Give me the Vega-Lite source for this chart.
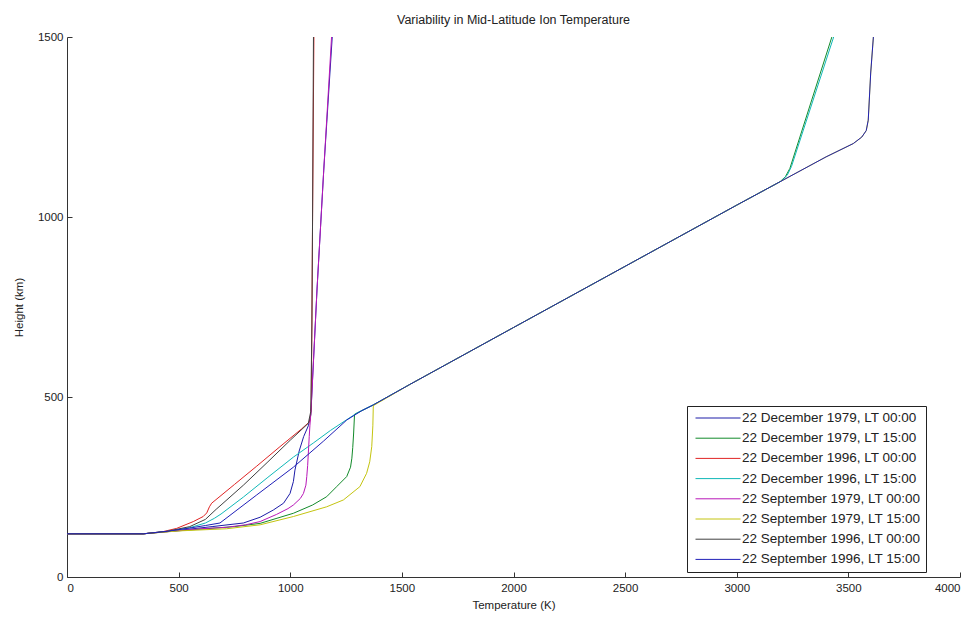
{
  "$schema": "https://vega.github.io/schema/vega-lite/v6.json",
  "autosize": "none",
  "width": 893,
  "height": 540,
  "padding": {"left": 67, "top": 37, "right": 17, "bottom": 42},
  "background": "white",
  "title": {"text": "Variability in Mid-Latitude Ion Temperature", "font": "Liberation Sans", "fontSize": 12.5, "fontWeight": "normal", "color": "#222222", "offset": 5, "anchor": "middle"},
  "config": {"view": {"stroke": null}},
  "data": {"values": [
    {"s": "22 December 1979, LT 00:00", "o": 1, "T": 0, "H": 120},
    {"s": "22 December 1979, LT 00:00", "o": 2, "T": 342, "H": 120},
    {"s": "22 December 1979, LT 00:00", "o": 3, "T": 450, "H": 126},
    {"s": "22 December 1979, LT 00:00", "o": 4, "T": 550, "H": 133},
    {"s": "22 December 1979, LT 00:00", "o": 5, "T": 650, "H": 140},
    {"s": "22 December 1979, LT 00:00", "o": 6, "T": 790, "H": 150},
    {"s": "22 December 1979, LT 00:00", "o": 7, "T": 865, "H": 166},
    {"s": "22 December 1979, LT 00:00", "o": 8, "T": 924, "H": 186},
    {"s": "22 December 1979, LT 00:00", "o": 9, "T": 970, "H": 205},
    {"s": "22 December 1979, LT 00:00", "o": 10, "T": 999, "H": 232},
    {"s": "22 December 1979, LT 00:00", "o": 11, "T": 1014, "H": 265},
    {"s": "22 December 1979, LT 00:00", "o": 12, "T": 1021, "H": 297},
    {"s": "22 December 1979, LT 00:00", "o": 13, "T": 1040, "H": 350},
    {"s": "22 December 1979, LT 00:00", "o": 14, "T": 1060, "H": 390},
    {"s": "22 December 1979, LT 00:00", "o": 15, "T": 1081, "H": 420},
    {"s": "22 December 1979, LT 00:00", "o": 16, "T": 1092, "H": 450},
    {"s": "22 December 1979, LT 00:00", "o": 17, "T": 1120, "H": 800},
    {"s": "22 December 1979, LT 00:00", "o": 18, "T": 1150, "H": 1130},
    {"s": "22 December 1979, LT 00:00", "o": 19, "T": 1188, "H": 1500},

    {"s": "22 December 1979, LT 15:00", "o": 1, "T": 0, "H": 120},
    {"s": "22 December 1979, LT 15:00", "o": 2, "T": 342, "H": 120},
    {"s": "22 December 1979, LT 15:00", "o": 3, "T": 450, "H": 126},
    {"s": "22 December 1979, LT 15:00", "o": 4, "T": 600, "H": 133},
    {"s": "22 December 1979, LT 15:00", "o": 5, "T": 750, "H": 140},
    {"s": "22 December 1979, LT 15:00", "o": 6, "T": 865, "H": 149},
    {"s": "22 December 1979, LT 15:00", "o": 7, "T": 1014, "H": 177},
    {"s": "22 December 1979, LT 15:00", "o": 8, "T": 1100, "H": 200},
    {"s": "22 December 1979, LT 15:00", "o": 9, "T": 1163, "H": 223},
    {"s": "22 December 1979, LT 15:00", "o": 10, "T": 1208, "H": 251},
    {"s": "22 December 1979, LT 15:00", "o": 11, "T": 1253, "H": 279},
    {"s": "22 December 1979, LT 15:00", "o": 12, "T": 1270, "H": 305},
    {"s": "22 December 1979, LT 15:00", "o": 13, "T": 1276, "H": 330},
    {"s": "22 December 1979, LT 15:00", "o": 14, "T": 1280, "H": 360},
    {"s": "22 December 1979, LT 15:00", "o": 15, "T": 1284, "H": 400},
    {"s": "22 December 1979, LT 15:00", "o": 16, "T": 1288, "H": 452},
    {"s": "22 December 1979, LT 15:00", "o": 17, "T": 1372, "H": 478},
    {"s": "22 December 1979, LT 15:00", "o": 18, "T": 1536, "H": 535},
    {"s": "22 December 1979, LT 15:00", "o": 19, "T": 2000, "H": 693},
    {"s": "22 December 1979, LT 15:00", "o": 20, "T": 2500, "H": 863},
    {"s": "22 December 1979, LT 15:00", "o": 21, "T": 3000, "H": 1033},
    {"s": "22 December 1979, LT 15:00", "o": 22, "T": 3194, "H": 1098},
    {"s": "22 December 1979, LT 15:00", "o": 23, "T": 3218, "H": 1112},
    {"s": "22 December 1979, LT 15:00", "o": 24, "T": 3238, "H": 1135},
    {"s": "22 December 1979, LT 15:00", "o": 25, "T": 3426, "H": 1500},

    {"s": "22 December 1996, LT 00:00", "o": 1, "T": 0, "H": 120},
    {"s": "22 December 1996, LT 00:00", "o": 2, "T": 342, "H": 120},
    {"s": "22 December 1996, LT 00:00", "o": 3, "T": 430, "H": 126},
    {"s": "22 December 1996, LT 00:00", "o": 4, "T": 491, "H": 135},
    {"s": "22 December 1996, LT 00:00", "o": 5, "T": 566, "H": 154},
    {"s": "22 December 1996, LT 00:00", "o": 6, "T": 610, "H": 168},
    {"s": "22 December 1996, LT 00:00", "o": 7, "T": 626, "H": 178},
    {"s": "22 December 1996, LT 00:00", "o": 8, "T": 638, "H": 195},
    {"s": "22 December 1996, LT 00:00", "o": 9, "T": 648, "H": 205},
    {"s": "22 December 1996, LT 00:00", "o": 10, "T": 750, "H": 257},
    {"s": "22 December 1996, LT 00:00", "o": 11, "T": 850, "H": 308},
    {"s": "22 December 1996, LT 00:00", "o": 12, "T": 950, "H": 360},
    {"s": "22 December 1996, LT 00:00", "o": 13, "T": 1050, "H": 411},
    {"s": "22 December 1996, LT 00:00", "o": 14, "T": 1088, "H": 432},
    {"s": "22 December 1996, LT 00:00", "o": 15, "T": 1094, "H": 470},
    {"s": "22 December 1996, LT 00:00", "o": 16, "T": 1097, "H": 700},
    {"s": "22 December 1996, LT 00:00", "o": 17, "T": 1100, "H": 1000},
    {"s": "22 December 1996, LT 00:00", "o": 18, "T": 1106, "H": 1500},

    {"s": "22 December 1996, LT 15:00", "o": 1, "T": 0, "H": 120},
    {"s": "22 December 1996, LT 15:00", "o": 2, "T": 342, "H": 120},
    {"s": "22 December 1996, LT 15:00", "o": 3, "T": 450, "H": 127},
    {"s": "22 December 1996, LT 15:00", "o": 4, "T": 550, "H": 137},
    {"s": "22 December 1996, LT 15:00", "o": 5, "T": 620, "H": 150},
    {"s": "22 December 1996, LT 15:00", "o": 6, "T": 660, "H": 163},
    {"s": "22 December 1996, LT 15:00", "o": 7, "T": 690, "H": 175},
    {"s": "22 December 1996, LT 15:00", "o": 8, "T": 790, "H": 222},
    {"s": "22 December 1996, LT 15:00", "o": 9, "T": 900, "H": 277},
    {"s": "22 December 1996, LT 15:00", "o": 10, "T": 1014, "H": 333},
    {"s": "22 December 1996, LT 15:00", "o": 11, "T": 1103, "H": 372},
    {"s": "22 December 1996, LT 15:00", "o": 12, "T": 1180, "H": 407},
    {"s": "22 December 1996, LT 15:00", "o": 13, "T": 1253, "H": 437},
    {"s": "22 December 1996, LT 15:00", "o": 14, "T": 1300, "H": 456},
    {"s": "22 December 1996, LT 15:00", "o": 15, "T": 1372, "H": 478},
    {"s": "22 December 1996, LT 15:00", "o": 16, "T": 1536, "H": 535},
    {"s": "22 December 1996, LT 15:00", "o": 17, "T": 2000, "H": 693},
    {"s": "22 December 1996, LT 15:00", "o": 18, "T": 2500, "H": 863},
    {"s": "22 December 1996, LT 15:00", "o": 19, "T": 3000, "H": 1033},
    {"s": "22 December 1996, LT 15:00", "o": 20, "T": 3200, "H": 1100},
    {"s": "22 December 1996, LT 15:00", "o": 21, "T": 3226, "H": 1116},
    {"s": "22 December 1996, LT 15:00", "o": 22, "T": 3245, "H": 1140},
    {"s": "22 December 1996, LT 15:00", "o": 23, "T": 3434, "H": 1500},

    {"s": "22 September 1979, LT 00:00", "o": 1, "T": 0, "H": 120},
    {"s": "22 September 1979, LT 00:00", "o": 2, "T": 342, "H": 120},
    {"s": "22 September 1979, LT 00:00", "o": 3, "T": 450, "H": 126},
    {"s": "22 September 1979, LT 00:00", "o": 4, "T": 600, "H": 134},
    {"s": "22 September 1979, LT 00:00", "o": 5, "T": 715, "H": 138},
    {"s": "22 September 1979, LT 00:00", "o": 6, "T": 800, "H": 145},
    {"s": "22 September 1979, LT 00:00", "o": 7, "T": 865, "H": 154},
    {"s": "22 September 1979, LT 00:00", "o": 8, "T": 939, "H": 174},
    {"s": "22 September 1979, LT 00:00", "o": 9, "T": 990, "H": 190},
    {"s": "22 September 1979, LT 00:00", "o": 10, "T": 1014, "H": 200},
    {"s": "22 September 1979, LT 00:00", "o": 11, "T": 1045, "H": 218},
    {"s": "22 September 1979, LT 00:00", "o": 12, "T": 1059, "H": 232},
    {"s": "22 September 1979, LT 00:00", "o": 13, "T": 1070, "H": 255},
    {"s": "22 September 1979, LT 00:00", "o": 14, "T": 1074, "H": 279},
    {"s": "22 September 1979, LT 00:00", "o": 15, "T": 1078, "H": 310},
    {"s": "22 September 1979, LT 00:00", "o": 16, "T": 1081, "H": 344},
    {"s": "22 September 1979, LT 00:00", "o": 17, "T": 1085, "H": 390},
    {"s": "22 September 1979, LT 00:00", "o": 18, "T": 1088, "H": 420},
    {"s": "22 September 1979, LT 00:00", "o": 19, "T": 1093, "H": 460},
    {"s": "22 September 1979, LT 00:00", "o": 20, "T": 1120, "H": 800},
    {"s": "22 September 1979, LT 00:00", "o": 21, "T": 1150, "H": 1130},
    {"s": "22 September 1979, LT 00:00", "o": 22, "T": 1185, "H": 1500},

    {"s": "22 September 1979, LT 15:00", "o": 1, "T": 0, "H": 120},
    {"s": "22 September 1979, LT 15:00", "o": 2, "T": 342, "H": 120},
    {"s": "22 September 1979, LT 15:00", "o": 3, "T": 500, "H": 128},
    {"s": "22 September 1979, LT 15:00", "o": 4, "T": 715, "H": 134},
    {"s": "22 September 1979, LT 15:00", "o": 5, "T": 865, "H": 145},
    {"s": "22 September 1979, LT 15:00", "o": 6, "T": 1014, "H": 168},
    {"s": "22 September 1979, LT 15:00", "o": 7, "T": 1163, "H": 195},
    {"s": "22 September 1979, LT 15:00", "o": 8, "T": 1238, "H": 214},
    {"s": "22 September 1979, LT 15:00", "o": 9, "T": 1312, "H": 251},
    {"s": "22 September 1979, LT 15:00", "o": 10, "T": 1342, "H": 288},
    {"s": "22 September 1979, LT 15:00", "o": 11, "T": 1356, "H": 320},
    {"s": "22 September 1979, LT 15:00", "o": 12, "T": 1365, "H": 362},
    {"s": "22 September 1979, LT 15:00", "o": 13, "T": 1370, "H": 420},
    {"s": "22 September 1979, LT 15:00", "o": 14, "T": 1372, "H": 476},
    {"s": "22 September 1979, LT 15:00", "o": 15, "T": 1536, "H": 535},
    {"s": "22 September 1979, LT 15:00", "o": 16, "T": 2000, "H": 693},
    {"s": "22 September 1979, LT 15:00", "o": 17, "T": 2500, "H": 863},
    {"s": "22 September 1979, LT 15:00", "o": 18, "T": 3000, "H": 1033},
    {"s": "22 September 1979, LT 15:00", "o": 19, "T": 3194, "H": 1098},
    {"s": "22 September 1979, LT 15:00", "o": 20, "T": 3400, "H": 1167},
    {"s": "22 September 1979, LT 15:00", "o": 21, "T": 3522, "H": 1204},
    {"s": "22 September 1979, LT 15:00", "o": 22, "T": 3560, "H": 1222},
    {"s": "22 September 1979, LT 15:00", "o": 23, "T": 3580, "H": 1240},
    {"s": "22 September 1979, LT 15:00", "o": 24, "T": 3589, "H": 1269},
    {"s": "22 September 1979, LT 15:00", "o": 25, "T": 3600, "H": 1400},
    {"s": "22 September 1979, LT 15:00", "o": 26, "T": 3612, "H": 1500},

    {"s": "22 September 1996, LT 00:00", "o": 1, "T": 0, "H": 120},
    {"s": "22 September 1996, LT 00:00", "o": 2, "T": 342, "H": 120},
    {"s": "22 September 1996, LT 00:00", "o": 3, "T": 450, "H": 127},
    {"s": "22 September 1996, LT 00:00", "o": 4, "T": 550, "H": 140},
    {"s": "22 September 1996, LT 00:00", "o": 5, "T": 620, "H": 160},
    {"s": "22 September 1996, LT 00:00", "o": 6, "T": 668, "H": 188},
    {"s": "22 September 1996, LT 00:00", "o": 7, "T": 690, "H": 200},
    {"s": "22 September 1996, LT 00:00", "o": 8, "T": 790, "H": 255},
    {"s": "22 September 1996, LT 00:00", "o": 9, "T": 900, "H": 320},
    {"s": "22 September 1996, LT 00:00", "o": 10, "T": 1000, "H": 380},
    {"s": "22 September 1996, LT 00:00", "o": 11, "T": 1081, "H": 427},
    {"s": "22 September 1996, LT 00:00", "o": 12, "T": 1092, "H": 460},
    {"s": "22 September 1996, LT 00:00", "o": 13, "T": 1097, "H": 700},
    {"s": "22 September 1996, LT 00:00", "o": 14, "T": 1100, "H": 1000},
    {"s": "22 September 1996, LT 00:00", "o": 15, "T": 1104, "H": 1500},

    {"s": "22 September 1996, LT 15:00", "o": 1, "T": 0, "H": 120},
    {"s": "22 September 1996, LT 15:00", "o": 2, "T": 342, "H": 120},
    {"s": "22 September 1996, LT 15:00", "o": 3, "T": 450, "H": 127},
    {"s": "22 September 1996, LT 15:00", "o": 4, "T": 550, "H": 136},
    {"s": "22 September 1996, LT 15:00", "o": 5, "T": 620, "H": 143},
    {"s": "22 September 1996, LT 15:00", "o": 6, "T": 685, "H": 150},
    {"s": "22 September 1996, LT 15:00", "o": 7, "T": 850, "H": 228},
    {"s": "22 September 1996, LT 15:00", "o": 8, "T": 1014, "H": 305},
    {"s": "22 September 1996, LT 15:00", "o": 9, "T": 1150, "H": 378},
    {"s": "22 September 1996, LT 15:00", "o": 10, "T": 1253, "H": 436},
    {"s": "22 September 1996, LT 15:00", "o": 11, "T": 1320, "H": 462},
    {"s": "22 September 1996, LT 15:00", "o": 12, "T": 1372, "H": 478},
    {"s": "22 September 1996, LT 15:00", "o": 13, "T": 1536, "H": 535},
    {"s": "22 September 1996, LT 15:00", "o": 14, "T": 2000, "H": 693},
    {"s": "22 September 1996, LT 15:00", "o": 15, "T": 2500, "H": 863},
    {"s": "22 September 1996, LT 15:00", "o": 16, "T": 3000, "H": 1033},
    {"s": "22 September 1996, LT 15:00", "o": 17, "T": 3194, "H": 1098},
    {"s": "22 September 1996, LT 15:00", "o": 18, "T": 3400, "H": 1167},
    {"s": "22 September 1996, LT 15:00", "o": 19, "T": 3522, "H": 1204},
    {"s": "22 September 1996, LT 15:00", "o": 20, "T": 3560, "H": 1222},
    {"s": "22 September 1996, LT 15:00", "o": 21, "T": 3580, "H": 1240},
    {"s": "22 September 1996, LT 15:00", "o": 22, "T": 3589, "H": 1269},
    {"s": "22 September 1996, LT 15:00", "o": 23, "T": 3600, "H": 1400},
    {"s": "22 September 1996, LT 15:00", "o": 24, "T": 3612, "H": 1500}
  ]},
  "mark": {"type": "line", "strokeWidth": 1, "interpolate": "linear", "clip": true},
  "encoding": {
    "x": {"field": "T", "type": "quantitative", "title": "Temperature (K)",
      "scale": {"domain": [0, 4000], "nice": false, "zero": false},
      "axis": {"values": [0, 500, 1000, 1500, 2000, 2500, 3000, 3500, 4000], "format": "d", "grid": false,
        "domainColor": "#333333", "tickColor": "#333333", "tickSize": -5, "labelPadding": 10,
        "labelFont": "Liberation Sans", "labelFontSize": 11.5, "labelColor": "#222222",
        "titleFont": "Liberation Sans", "titleFontSize": 11.5, "titleFontWeight": "normal", "titleColor": "#222222", "titlePadding": 6}},
    "y": {"field": "H", "type": "quantitative", "title": "Height (km)",
      "scale": {"domain": [0, 1500], "nice": false, "zero": false},
      "axis": {"values": [0, 500, 1000, 1500], "format": "d", "grid": false,
        "domainColor": "#333333", "tickColor": "#333333", "tickSize": -5, "labelPadding": 9,
        "labelFont": "Liberation Sans", "labelFontSize": 11.5, "labelColor": "#222222",
        "titleFont": "Liberation Sans", "titleFontSize": 11.5, "titleFontWeight": "normal", "titleColor": "#222222", "titlePadding": 13}},
    "order": {"field": "o", "type": "quantitative"},
    "color": {"field": "s", "type": "nominal",
      "scale": {
        "domain": ["22 December 1979, LT 00:00", "22 December 1979, LT 15:00", "22 December 1996, LT 00:00", "22 December 1996, LT 15:00", "22 September 1979, LT 00:00", "22 September 1979, LT 15:00", "22 September 1996, LT 00:00", "22 September 1996, LT 15:00"],
        "range": ["#1c1ca8", "#128a2a", "#e02424", "#10b8b8", "#b818b8", "#c4c410", "#404040", "#2020b8"]},
      "legend": {"title": null, "orient": "none", "legendX": 620, "legendY": 369,
        "symbolType": "stroke", "symbolSize": 2025, "symbolStrokeWidth": 1, "symbolOffset": 3,
        "clipHeight": 14, "rowPadding": 6.2,
        "labelFont": "Liberation Sans", "labelFontSize": 13.5, "labelColor": "#222222", "labelOffset": 1,
        "padding": 5, "strokeColor": "#222222", "fillColor": "white", "labelLimit": 300}}
  }
}
